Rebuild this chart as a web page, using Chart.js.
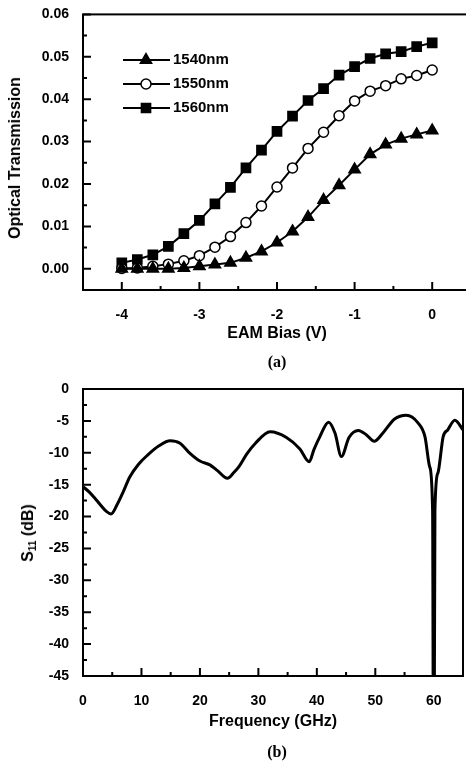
<!DOCTYPE html>
<html>
<head>
<meta charset="utf-8">
<script src="https://cdn.jsdelivr.net/npm/chart.js@4.4.1/dist/chart.umd.min.js"></script>
<style>
html, body { margin: 0; padding: 0; background: #fff; }
#wrap { position: relative; width: 466px; height: 764px; overflow: hidden; background: #fff; }
canvas { position: absolute; left: 0; }
#chartA { top: 0; }
#chartB { top: 370px; }
.lbl { position: absolute; font-family: "Liberation Sans", Arial, sans-serif; font-weight: bold;
  font-size: 16px; color: #000; white-space: nowrap; line-height: 1; transform: translate(-50%, -50%); }
.rot { transform: translate(-50%, -50%) rotate(-90deg); }
.cap { font-family: "Liberation Serif", "Times New Roman", serif; }
sub { font-size: 10px; vertical-align: -3px; }
</style>
</head>
<body>
<div id="wrap">
  <canvas id="chartA" width="480" height="345"></canvas>
  <canvas id="chartB" width="466" height="365"></canvas>
  <div class="lbl rot" style="left:15px;top:158px">Optical Transmission</div>
  <div class="lbl" style="left:277px;top:333px">EAM Bias (V)</div>
  <div class="lbl cap" style="left:277px;top:362px">(a)</div>
  <div class="lbl rot" style="left:29px;top:533px">S<sub>11</sub> (dB)</div>
  <div class="lbl" style="left:273px;top:721px">Frequency (GHz)</div>
  <div class="lbl cap" style="left:277px;top:752px">(b)</div>
</div>
<script>
// ---- panel (a): optical transmission vs EAM bias ----
const biasV = [-4, -3.8, -3.6, -3.4, -3.2, -3, -2.8, -2.6, -2.4, -2.2, -2, -1.8, -1.6, -1.4, -1.2, -1, -0.8, -0.6, -0.4, -0.2, 0];
const t1540 = [0, 0, 0, 0, 0.0002, 0.0006, 0.0010, 0.0014, 0.0026, 0.0041, 0.0062, 0.0088, 0.0122, 0.0162, 0.0197, 0.0234, 0.0270, 0.0293, 0.0307, 0.0317, 0.0326];
const t1550 = [0.0001, 0.0002, 0.0006, 0.0011, 0.0019, 0.0031, 0.0051, 0.0076, 0.0109, 0.0148, 0.0193, 0.0238, 0.0284, 0.0322, 0.0361, 0.0396, 0.0419, 0.0432, 0.0448, 0.0456, 0.0469];
const t1560 = [0.0014, 0.0022, 0.0033, 0.0053, 0.0083, 0.0114, 0.0153, 0.0192, 0.0238, 0.0280, 0.0324, 0.0360, 0.0397, 0.0425, 0.0457, 0.0477, 0.0496, 0.0507, 0.0512, 0.0524, 0.0533];
const seriesNamesA = ["1540nm", "1550nm", "1560nm"];
const xTicksA = [-4, -3, -2, -1, 0];
const yTicksA = [0, 0.01, 0.02, 0.03, 0.04, 0.05, 0.06];

// ---- panel (b): S11 vs frequency ----
const freqGHz = [0, 1, 2, 3, 4, 4.8, 5.8, 6.8, 8, 9.5, 11, 13, 14.9, 16.6, 18.3, 20, 21.7, 23, 24.7, 25.8,
  26.8, 28, 29.5, 32, 34.8, 37.1, 38.7, 39.5, 40.5, 42, 43.1, 44.2, 45.5, 47.1, 48.5, 49.8, 51.3, 53.3, 55.3,
  57.3, 58.5, 59.3, 59.8, 59.95, 60.05, 60.2, 60.7, 61.6, 62.4, 63.6, 65];
const s11dB = [-15.3, -16.1, -17.1, -18.2, -19.2, -19.6, -18.2, -16.3, -13.8, -11.8, -10.4, -8.9, -8.1, -8.5, -10.1, -11.3, -11.9, -12.8, -14.0, -13.1,
  -12.0, -10.2, -8.5, -6.7, -7.6, -9.4, -11.4, -9.5, -7.5, -5.2, -6.9, -10.6, -7.6, -6.5, -7.2, -8.2, -6.9, -4.7, -4.1,
  -5.3, -7.5, -12.2, -19, -60, -60, -19, -13.2, -7.5, -6.4, -4.9, -6.4];
const xTicksB = [0, 10, 20, 30, 40, 50, 60];
const yTicksB = [0, -5, -10, -15, -20, -25, -30, -35, -40, -45];

const tickFont = { family: "'Liberation Sans', Arial, sans-serif", size: 14, weight: 'bold' };

function pts(xs, ys){ return xs.map((x, i) => ({ x: x, y: ys[i] })); }
function steps(min, max, step){ const out = []; for (let v = min; v <= max + 1e-9; v += step) out.push(+v.toFixed(6)); return out; }

// frame + inward ticks
const frameTicks = {
  id: 'frameTicks',
  afterDatasetsDraw(chart, args, o) {
    const { ctx, chartArea: a, scales: { x, y } } = chart;
    ctx.save();
    ctx.strokeStyle = '#000';
    ctx.lineWidth = 2;
    ctx.strokeRect(a.left, a.top, a.right - a.left, a.bottom - a.top);
    ctx.beginPath();
    o.xMinor.forEach(v => { const p = x.getPixelForValue(v); ctx.moveTo(p, a.bottom); ctx.lineTo(p, a.bottom - 4); });
    o.xMajor.forEach(v => { const p = x.getPixelForValue(v); ctx.moveTo(p, a.bottom); ctx.lineTo(p, a.bottom - 8); });
    o.yMinor.forEach(v => { const p = y.getPixelForValue(v); ctx.moveTo(a.left, p); ctx.lineTo(a.left + 4, p); });
    o.yMajor.forEach(v => { const p = y.getPixelForValue(v); ctx.moveTo(a.left, p); ctx.lineTo(a.left + 8, p); });
    ctx.stroke();
    ctx.restore();
  }
};

// legend inside plot (line + marker + text)
const insideLegend = {
  id: 'insideLegend',
  afterDraw(chart, args, o) {
    if (!o.show) return;
    const ctx = chart.ctx;
    ctx.save();
    chart.data.datasets.forEach((ds, i) => {
      const yy = o.top + i * o.gap;
      ctx.strokeStyle = '#000';
      ctx.lineWidth = 2;
      ctx.beginPath();
      ctx.moveTo(o.left, yy); ctx.lineTo(o.left + 47, yy);
      ctx.stroke();
      ctx.fillStyle = ds.pointBackgroundColor;
      ctx.strokeStyle = '#000';
      ctx.lineWidth = 1.5;
      Chart.helpers.drawPoint(ctx, { pointStyle: ds.pointStyle, radius: ds.pointRadius, rotation: 0, borderWidth: 1.5 }, o.left + 23, yy);
      ctx.fillStyle = '#000';
      ctx.font = "bold 15px 'Liberation Sans', Arial, sans-serif";
      ctx.textBaseline = 'middle';
      ctx.textAlign = 'left';
      ctx.fillText(ds.label, o.left + 50, yy);
    });
    ctx.restore();
  }
};

function axisX(min, max, ticks, pad, h){
  return {
    type: 'linear', min: min, max: max,
    grid: { display: false }, border: { display: false },
    afterBuildTicks: s => { s.ticks = ticks.map(v => ({ value: v })); },
    afterFit: s => { s.height = h; },
    ticks: { color: '#000', font: tickFont, padding: pad, autoSkip: false, maxRotation: 0 }
  };
}
function axisY(min, max, ticks, fmt){
  return {
    type: 'linear', min: min, max: max,
    grid: { display: false }, border: { display: false },
    afterBuildTicks: s => { s.ticks = ticks.map(v => ({ value: v })); },
    afterFit: s => { s.width = 83; },
    ticks: { color: '#000', font: tickFont, padding: 6, autoSkip: false, callback: fmt }
  };
}

const styleA = [
  { pointStyle: 'triangle', pointRadius: 6.5, pointBackgroundColor: '#000' },
  { pointStyle: 'circle', pointRadius: 5, pointBackgroundColor: '#fff' },
  { pointStyle: 'rect', pointRadius: 6.5, pointBackgroundColor: '#000' }
];

new Chart(document.getElementById('chartA'), {
  type: 'line',
  data: {
    datasets: [t1540, t1550, t1560].map((vals, i) => Object.assign({
      label: seriesNamesA[i],
      data: pts(biasV, vals),
      borderColor: '#000', borderWidth: 2,
      pointBorderColor: '#000', pointBorderWidth: 1.5,
      tension: 0
    }, styleA[i]))
  },
  options: {
    responsive: false, animation: false, devicePixelRatio: 1,
    layout: { padding: { left: 0, top: 13, right: 9, bottom: 0 } },
    scales: {
      x: axisX(-4.5, 0.5, xTicksA, 9, 55),
      y: axisY(-0.005, 0.06, yTicksA, v => v.toFixed(2))
    },
    plugins: {
      legend: { display: false }, tooltip: { enabled: false },
      frameTicks: { xMajor: xTicksA, xMinor: steps(-4.5, 0.5, 0.5), yMajor: yTicksA, yMinor: steps(-0.005, 0.06, 0.005) },
      insideLegend: { show: true, left: 123, top: 60, gap: 24 }
    }
  },
  plugins: [frameTicks, insideLegend]
});

new Chart(document.getElementById('chartB'), {
  type: 'line',
  data: {
    datasets: [{
      label: 'S11',
      data: pts(freqGHz, s11dB),
      borderColor: '#000', borderWidth: 3,
      pointRadius: 0,
      cubicInterpolationMode: 'monotone'
    }]
  },
  options: {
    responsive: false, animation: false, devicePixelRatio: 1,
    layout: { padding: { left: 0, top: 19, right: 3, bottom: 0 } },
    scales: {
      x: axisX(0, 65, xTicksB, 9, 59),
      y: axisY(-45, 0, yTicksB, v => String(v))
    },
    plugins: {
      legend: { display: false }, tooltip: { enabled: false },
      frameTicks: { xMajor: xTicksB, xMinor: steps(0, 65, 5), yMajor: yTicksB, yMinor: steps(-45, 0, 2.5) },
      insideLegend: { show: false }
    }
  },
  plugins: [frameTicks, insideLegend]
});
</script>
</body>
</html>
